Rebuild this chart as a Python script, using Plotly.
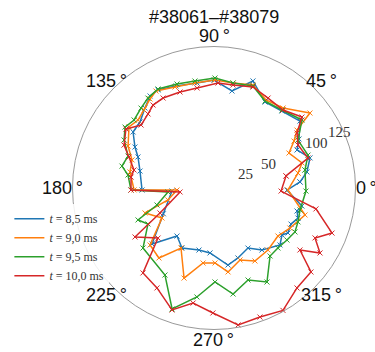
import math
import plotly.graph_objects as go

# Polar profiles (angle in degrees, radius) for four time slices
theta_85 = [4, 9.8, 17.4, 24.6, 30, 37.9, 48.6, 59.3, 70, 79.5, 90, 99.2, 110.4, 119.7, 124.8,
            130.8, 138.3, 145.3, 152.6, 157.8, 167.1, 181.6, 184.1, 207, 222.1, 232.4, 241.9,
            256.4, 266.5, 280.3, 288.9, 299.5, 307.7, 319.2, 325.4, 328.7, 334.9, 340.3, 344.5,
            348.4, 358.4]
r_85 = [83.5, 91.3, 97.4, 88.4, 95, 105.5, 99.4, 96.8, 110.3, 95.5, 104.5, 103, 105.4, 109.3, 108.5,
        102.3, 96, 95.3, 86.2, 79.5, 73.5, 69.7, 40.8, 55, 80.9, 58.7, 65.8,
        61.8, 63, 75.8, 71.6, 66.8, 75.9, 84.4, 80, 83.8, 82.3, 86.4, 83.4,
        86.9, 70.7]

theta_90 = [10.1, 15.9, 25, 30.4, 34.9, 38, 49.2, 59.4, 69.3, 79.7, 89.5, 100.3, 111.1, 120.9,
            125.7, 131.9, 138.2, 144.3, 154, 161.1, 169.2, 181.4, 183.1, 194.6, 199.9, 210,
            221.7, 231.8, 241.2, 251.6, 261.7, 270.8, 279.5, 289.9, 299.3, 311, 323.1, 332.2,
            343.5, 358.5]
r_90 = [82.6, 88.6, 80.1, 89.8, 98, 117.9, 102.3, 99, 106.6, 103.3, 104.5, 103.3, 104.8, 109.4,
        106.1, 101.5, 98.7, 101.3, 92.6, 83.9, 82.8, 77.4, 35.9, 46, 71, 58.1,
        83, 86.2, 66.3, 91.9, 73.4, 72.6, 82.4, 74.1, 81, 79.6, 77.4, 83.1,
        91.9, 71.6]

theta_95 = [11.2, 19.3, 29.7, 37.7, 48.9, 59.6, 69.1, 79.7, 89.5, 100.1, 109.6, 119.5, 126.3,
            132.4, 139.6, 145.6, 151.9, 159.6, 166.6, 171.4, 181.4, 185, 196.6, 202.8, 208.6,
            220.2, 240.6, 250.9, 261.1, 270.6, 280.2, 290.3, 299.4, 309.5, 316.8, 324.5, 331.5,
            338, 345.7, 358.1]
r_95 = [89.8, 96.4, 93.6, 107.7, 100.2, 97.6, 105.7, 103.3, 106.5, 105.2, 106.9, 110.1, 108,
        104.8, 101.6, 104.4, 98.7, 88.8, 91.6, 84.2, 80.4, 44.7, 57.6, 79.8, 72.8,
        90, 96.7, 124, 106.8, 91, 104.3, 95, 104.5, 85.3, 84.9, 86.8, 89.2,
        87.7, 86, 89.1]

theta_100 = [9.5, 17.7, 27.1, 33.5, 38.9, 48.5, 59, 68.9, 79.5, 87.8, 99.6, 109.5, 119.5, 126.3,
             131.7, 139.2, 146.2, 154.5, 160, 167.3, 172.5, 181.4, 186.7, 204.8, 211.8, 221.8,
             230.1, 240.3, 251, 259.7, 269.5, 280, 289.6, 299.4, 309.7, 319.1, 324.2, 328.5,
             333.7, 339.1, 348.4, 357.4]
r_100 = [70.7, 95.5, 91.4, 96.4, 109.4, 100.8, 101.6, 104.8, 101.4, 101.7, 98.2, 98.6, 100.1, 99.7,
         96, 93.3, 102.6, 96.5, 87.6, 79.4, 81, 80.4, 33.1, 57.6, 90, 72.7,
         107.2, 111.4, 124.9, 113.2, 121, 134.6, 132.6, 136, 125.8, 124.2, 102.6, 120.4,
         109.1, 122.3, 100.8, 65]

series_names = ["<i>t</i> = 8,5 ms", "<i>t</i> = 9,0 ms", "<i>t</i> = 9,5 ms", "<i>t</i> = 10,0 ms"]
series_theta = [theta_85, theta_90, theta_95, theta_100]
series_r = [r_85, r_90, r_95, r_100]
colors = ["#1f77b4", "#ff7f0e", "#2ca02c", "#d62728"]

angle_ticks = [0, 45, 90, 135, 180, 225, 270, 315]
radial_ticks = [25, 50, 100, 125]
title_text = "#38061\u2013#38079"

# figure geometry (pixels)
W, H = 375, 352
CX, CY, RAD = 214.0, 188.0, 141.5
R_MAX = 137
PX_PER_UNIT = RAD / R_MAX


def to_paper(px, py):
    return px / W, 1 - py / H


fig = go.Figure()
for name, th, rr, c in zip(series_names, series_theta, series_r, colors):
    # close each profile into a loop
    fig.add_trace(go.Scatterpolar(
        theta=th + th[:1], r=rr + rr[:1], name=name, mode="lines+markers",
        legendgroup=name, showlegend=False,
        line=dict(color=c, width=1.5),
        marker=dict(symbol="x-thin", size=5, color=c, line=dict(color=c, width=1)),
    ))
for name, c in zip(series_names, colors):
    # legend entries show the line only
    fig.add_trace(go.Scatterpolar(
        theta=[None], r=[None], name=name, mode="lines", legendgroup=name,
        line=dict(color=c, width=1.5),
    ))

annotations = []
# angular labels just outside the rim
for a in angle_ticks:
    x, y = to_paper(CX + 152 * math.cos(math.radians(a)), CY - 152 * math.sin(math.radians(a)))
    annotations.append(dict(
        text=f"{a}\u2009°", x=x, y=y, xref="paper", yref="paper",
        xanchor="center", yanchor="middle", showarrow=False,
        font=dict(family="Liberation Sans, Arial", size=18, color="#111"),
    ))
# radial labels along the 24° direction
for v in radial_ticks:
    d = v * PX_PER_UNIT + 8.5
    x, y = to_paper(CX + d * math.cos(math.radians(24)), CY - d * math.sin(math.radians(24)))
    annotations.append(dict(
        text=str(v), x=x, y=y, xref="paper", yref="paper",
        xanchor="center", yanchor="middle", showarrow=False,
        font=dict(family="Liberation Serif, serif", size=15, color="#333"),
    ))

x0, y1 = to_paper(CX - RAD, CY - RAD)
x1, y0 = to_paper(CX + RAD, CY + RAD)

fig.update_layout(
    width=W, height=H,
    margin=dict(l=0, r=0, t=0, b=0),
    paper_bgcolor="white",
    title=dict(text=title_text, x=0.571, xanchor="center", y=0.953, yanchor="middle",
               font=dict(family="Liberation Sans, Arial", size=18, color="#111")),
    polar=dict(
        domain=dict(x=[x0, x1], y=[y0, y1]),
        bgcolor="white",
        angularaxis=dict(
            direction="counterclockwise", rotation=0,
            showticklabels=False,
            showgrid=False, ticks="", showline=True, linecolor="#999", linewidth=1,
        ),
        radialaxis=dict(
            range=[0, R_MAX], showticklabels=False,
            showgrid=False, showline=False, ticks="",
        ),
    ),
    annotations=annotations,
    legend=dict(
        x=0.025, y=0.42, xanchor="left", yanchor="top",
        bgcolor="rgba(255,255,255,0.85)", borderwidth=0,
        font=dict(family="Liberation Serif, serif", size=12, color="#333"),
        tracegroupgap=0, itemwidth=30,
    ),
)

fig.write_html("out.html")
